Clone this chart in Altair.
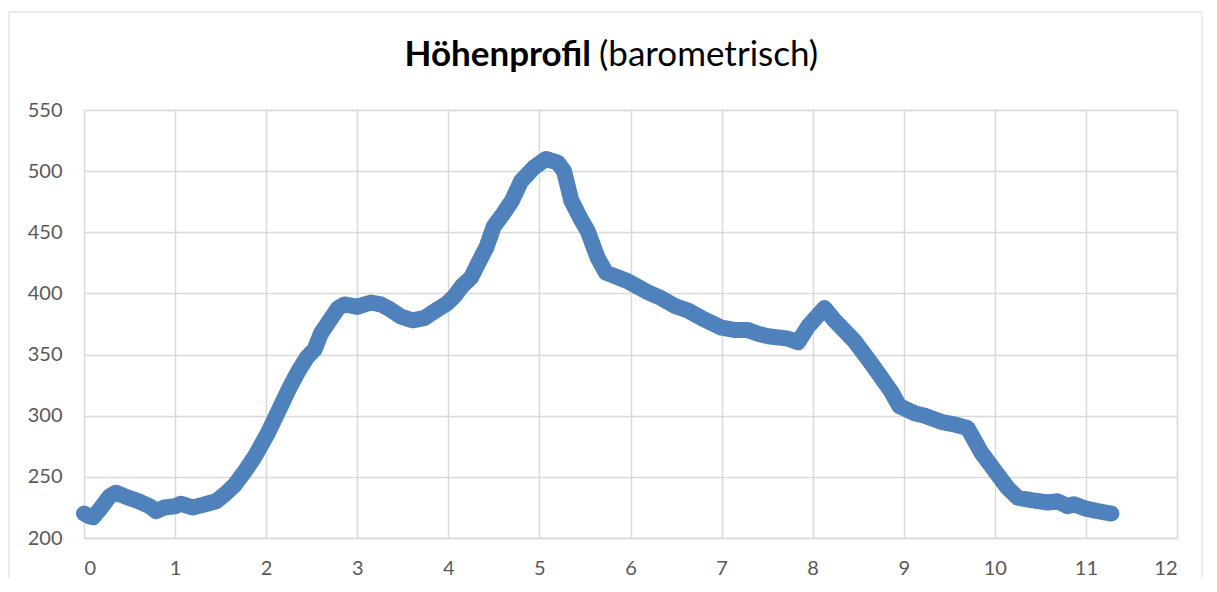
import altair as alt
import pandas as pd

# distance in km
km = [0.00, 0.05, 0.10, 0.18, 0.28, 0.35, 0.45, 0.60, 0.72, 0.79, 0.88, 1.00, 1.06, 1.19, 1.30,
      1.45, 1.55, 1.65, 1.77, 1.87, 2.02, 2.13, 2.25, 2.35, 2.45, 2.53, 2.60, 2.68, 2.79, 2.86,
      3.00, 3.08, 3.15, 3.26, 3.36, 3.48, 3.61, 3.74, 3.86, 3.99, 4.07, 4.15, 4.25, 4.33, 4.42,
      4.50, 4.60, 4.70, 4.80, 4.94, 5.07, 5.20, 5.27, 5.35, 5.46, 5.53, 5.64, 5.73, 5.97, 6.19,
      6.34, 6.48, 6.63, 6.80, 7.00, 7.15, 7.29, 7.40, 7.51, 7.73, 7.84, 7.95, 8.13, 8.24, 8.46,
      8.68, 8.86, 8.95, 9.12, 9.23, 9.41, 9.55, 9.70, 9.85, 10.00, 10.14, 10.25, 10.40, 10.58,
      10.69, 10.80, 10.87, 11.00, 11.13, 11.28]
# altitude in m
hoehe = [220, 218, 217, 224, 234, 237, 234, 230, 226, 222, 225, 226, 228, 225, 227,
         230, 236, 243, 255, 266, 286, 303, 322, 336, 348, 354, 367, 376, 388, 391,
         389, 391, 392.5, 391, 387, 381, 378, 380, 386, 392, 398, 406, 413, 425, 438,
         455, 465, 476, 492, 503, 510, 507, 500, 476, 460, 451, 429, 417, 410, 401,
         396, 390, 386, 379, 372, 370, 370, 367, 365, 363, 360, 373, 388, 378, 361,
         339, 320, 308, 302, 300, 295, 293, 290, 270, 255, 241, 233, 231, 229,
         230, 226, 227.6, 224, 222, 220]

x_ticks = list(range(0, 13))
y_ticks = list(range(200, 551, 50))

title_bold = "Höhenprofil"
title_rest = "(barometrisch)"

FONT = "Lato"
W, H = 1093, 428

df = pd.DataFrame({"km": km, "hoehe": hoehe})
one = pd.DataFrame({"a": [0]})

line = alt.Chart(df).mark_line(
    color="#4F81BD", strokeWidth=16, strokeCap="round", strokeJoin="round"
).encode(
    x=alt.X("km:Q", scale=alt.Scale(domain=[0, 12], nice=False),
            axis=alt.Axis(values=x_ticks, title=None, labelPadding=20, tickSize=0,
                          ticks=False, domainColor="#d9d9d9", domainWidth=1.5)),
    y=alt.Y("hoehe:Q", scale=alt.Scale(domain=[200, 550], nice=False, zero=False),
            axis=alt.Axis(values=y_ticks, title=None, labelPadding=22, tickSize=0,
                          ticks=False, domain=False)),
)

t1 = alt.Chart(one).mark_text(
    text=title_bold, font=FONT, fontSize=35, fontWeight="bold", color="#000000",
    align="right", baseline="alphabetic"
).encode(x=alt.value(507), y=alt.value(-44))

t2 = alt.Chart(one).mark_text(
    text=title_rest, font=FONT, fontSize=35, fontWeight="normal", color="#000000",
    align="left", baseline="alphabetic"
).encode(x=alt.value(515), y=alt.value(-44))

border_col = "#d9d9d9"
top_rule = alt.Chart(one).mark_rule(color=border_col, strokeWidth=1).encode(
    x=alt.value(-75), x2=alt.value(1118), y=alt.value(-98))
left_rule = alt.Chart(one).mark_rule(color=border_col, strokeWidth=1).encode(
    x=alt.value(-75), y=alt.value(-98), y2=alt.value(468))
right_rule = alt.Chart(one).mark_rule(color=border_col, strokeWidth=1).encode(
    x=alt.value(1118), y=alt.value(-98), y2=alt.value(468))

chart = alt.layer(top_rule, left_rule, right_rule, line, t1, t2).properties(
    width=W, height=H,
    padding={"top": 3, "left": 0, "right": 0, "bottom": 0},
).configure_view(stroke=None).configure_axis(
    grid=True, gridColor="#d9d9d9", gridWidth=1.5,
    labelFont=FONT, labelFontSize=20, labelColor="#595959",
)

chart.save("out.html", embed_options={"renderer": "svg", "actions": False})
